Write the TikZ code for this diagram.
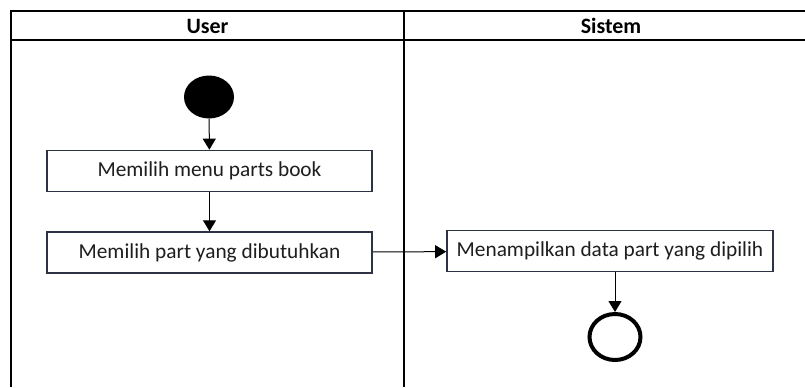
\documentclass[tikz,border=0pt]{standalone}
\usepackage{fontspec}
\setmainfont{Carlito}
\usetikzlibrary{arrows.meta, positioning, shapes.geometric}
\definecolor{boxline}{RGB}{45,50,68}
\definecolor{txt}{RGB}{30,30,30}

\begin{document}
\begin{tikzpicture}[x=1bp, y=-1bp, >={Triangle[length=11bp,width=13bp]},
    font=\fontsize{21.4}{24}\selectfont, text=txt]
    \tikzstyle{lane}=[line width=1.8bp, draw=black]
    \tikzstyle{header}=[text=black, font=\fontsize{22}{24}\selectfont\bfseries]
    \tikzstyle{activity}=[rectangle, draw=boxline, fill=white, line width=1.6bp,
        minimum width=325bp, minimum height=41bp, inner sep=0pt]
    \tikzstyle{initial}=[ellipse, fill=black, minimum width=50bp, minimum height=43bp, inner sep=0pt]
    \tikzstyle{final}=[ellipse, draw=black, line width=4bp, minimum width=51bp, minimum height=46bp, inner sep=0pt]
    \tikzstyle{flow}=[->, line width=1bp, draw=black]

    \useasboundingbox (0,0) rectangle (805,387);

    % Draw the swimlanes
    \draw[lane] (11,387) -- (11,11) -- (805,11);
    \draw[lane] (11,40) -- (805,40);
    \draw[lane] (404,11) -- (404,387);
    \node[header] (user) at (207.5,26) {User};
    \node[header] (sistem) at (611,26) {Sistem};

    % Draw the user lane
    \node[initial] (start) at (209,97) {};
    \node[activity] (menu) at (209.5,171) {Memilih menu parts book};
    \node[activity, below=39bp of menu] (part) {Memilih part yang dibutuhkan};

    % Draw the system lane
    \node[activity, minimum width=326bp] (data) at (610,251) {Menampilkan data part yang dipilih};
    \node[final] (end) at (615,337) {};

    % Connect the steps
    \draw[flow] (start) -- (menu);
    \draw[flow] (menu) -- (part);
    \draw[flow] (part) -- (data);
    \draw[flow] (data.south -| end) -- (end);
\end{tikzpicture}
\end{document}
